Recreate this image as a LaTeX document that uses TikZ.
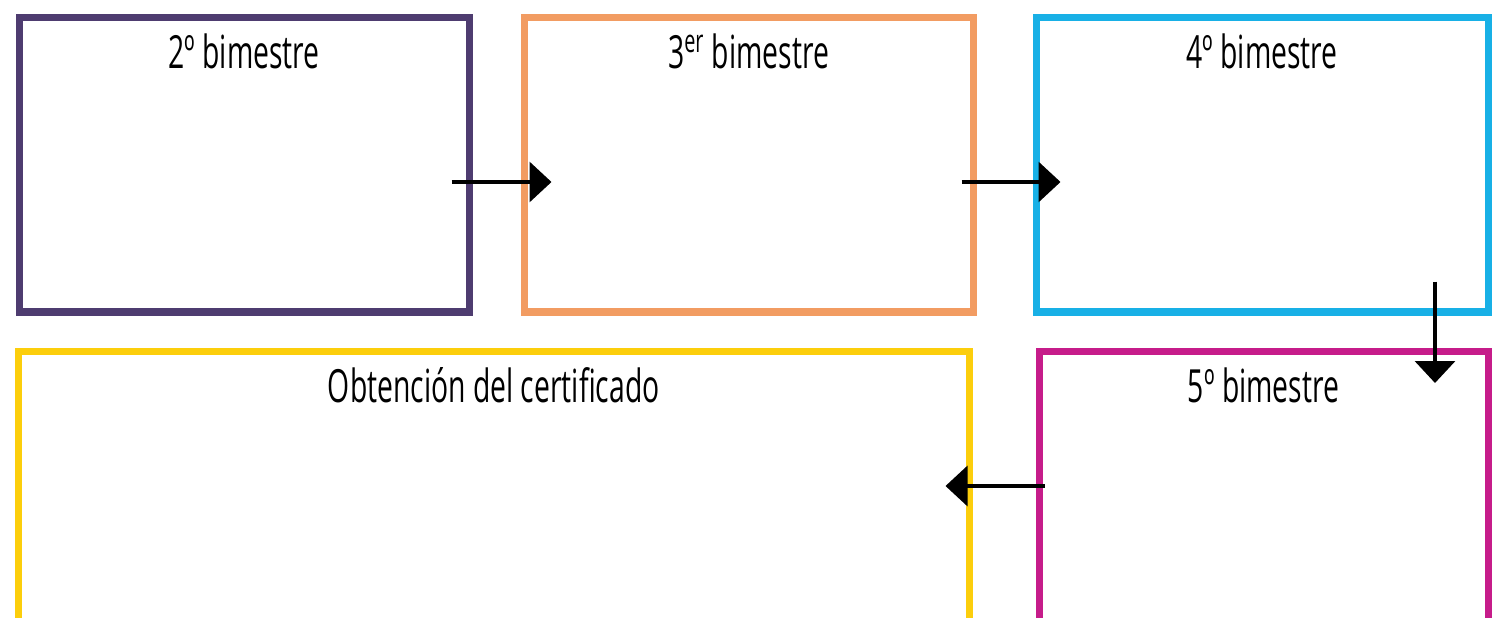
\documentclass[tikz,border=0pt]{standalone}
\usepackage{fontspec}
\setmainfont{Open Sans}[FakeStretch=0.62]
\usepackage{xcolor}
\usetikzlibrary{arrows.meta, positioning, calc}

\definecolor{bimpurple}{RGB}{78,60,112}
\definecolor{bimorange}{RGB}{242,156,98}
\definecolor{bimcyan}{RGB}{24,176,230}
\definecolor{bimyellow}{RGB}{252,206,12}
\definecolor{bimmagenta}{RGB}{198,28,138}

\begin{document}
\begin{tikzpicture}
    \tikzstyle{stage} = [rectangle, line width=0.14cm, minimum height=5.88cm, fill=none, inner sep=0pt]
    \tikzstyle{title} = [anchor=base, font=\fontsize{26}{30}\selectfont]
    \tikzstyle{arrow} = [line width=0.07cm, -{Triangle[length=0.44cm, width=0.8cm]}]

    \useasboundingbox (0,0) rectangle (29.84,-12.36);
    \clip (0,0) rectangle (29.84,-12.36);

    % top row
    \node[stage, draw=bimpurple, minimum width=9cm] (bim2) at (4.88,-3.30) {};
    \node[stage, draw=bimorange, minimum width=8.98cm] (bim3) at (14.97,-3.30) {};
    \node[stage, draw=bimcyan, minimum width=9.04cm] (bim4) at (25.24,-3.30) {};

    % bottom row
    \node[stage, draw=bimyellow, minimum width=19.01cm, minimum height=6.6cm, anchor=north] (cert) at (9.875,-6.96) {};
    \node[stage, draw=bimmagenta, minimum width=8.98cm, minimum height=6.6cm, anchor=north] (bim5) at (25.27,-6.96) {};

    \node[title] (t2) at ($(bim2.north)+(0,-1.08)$) {2º bimestre};
    \node[title] (t3) at ($(bim3.north)+(0,-1.08)$) {3\textsuperscript{er} bimestre};
    \node[title] (t4) at ($(bim4.north)+(0,-1.08)$) {4º bimestre};
    \node[title] (t5) at ($(bim5.north)+(0,-1.08)$) {5º bimestre};
    \node[title] (tc) at ($(cert.north)+(0,-1.08)$) {Obtención del certificado};

    % arrows between stages
    \coordinate (a1s) at ($(bim2.east)+(-0.42,-0.34)$);
    \coordinate (a1e) at ($(bim3.west)+(0.62,-0.34)$);
    \coordinate (a2s) at ($(bim3.east)+(-0.30,-0.34)$);
    \coordinate (a2e) at ($(bim4.west)+(0.56,-0.34)$);
    \coordinate (a3s) at ($(bim4.south)+(3.46,0.68)$);
    \coordinate (a3e) at ($(a3s |- bim5.north)+(0,-0.70)$);
    \coordinate (a4s) at ($(bim5.north west)+(0.18,-2.76)$);
    \coordinate (a4e) at ($(cert.north east)+(-0.54,-2.76)$);

    \draw[arrow] (a1s) -- (a1e);
    \draw[arrow] (a2s) -- (a2e);
    \draw[arrow] (a3s) -- (a3e);
    \draw[arrow] (a4s) -- (a4e);
\end{tikzpicture}
\end{document}
